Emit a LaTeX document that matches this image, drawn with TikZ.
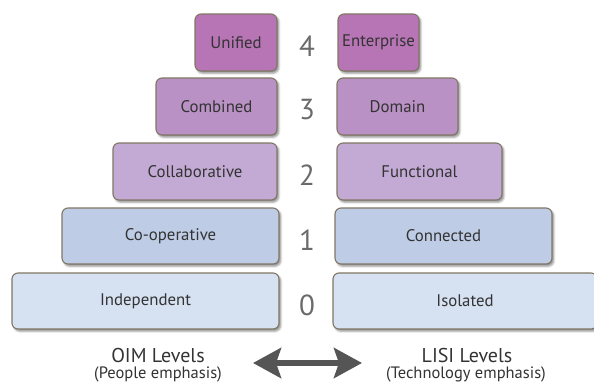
\documentclass[tikz,border=0pt]{standalone}
\usepackage{fontspec}
\setmainfont{PT Sans}
\usetikzlibrary{shadows.blur,arrows.meta}

\definecolor{lvfour}{HTML}{B775B5}
\definecolor{lvthree}{HTML}{B991C4}
\definecolor{lvtwo}{HTML}{C3AAD4}
\definecolor{lvone}{HTML}{BECCE6}
\definecolor{lvzero}{HTML}{D6E1F2}
\definecolor{rim}{HTML}{807664}
\definecolor{ink}{HTML}{333333}
\definecolor{digit}{HTML}{6A6A6A}
\definecolor{arrowgray}{HTML}{555555}

\tikzset{
  level/.style={draw=rim, line width=1.1pt, rounded corners=6pt,
    inner sep=0pt, text=ink, font=\fontsize{16.8}{18}\selectfont,
    blur shadow={shadow xshift=1.8pt, shadow yshift=-2.2pt,
      shadow blur radius=2pt, shadow opacity=45}},
  levelnum/.style={text=digit, font=\fontsize{29}{30}\selectfont, inner sep=0pt},
  caption/.style={text=ink, align=center, inner sep=0pt},
}

\begin{document}
\begin{tikzpicture}[x=1pt,y=-1pt]
  \useasboundingbox (0,0) rectangle (594,383);

  % level 4
  \node[level, fill=lvfour, minimum width=82pt, minimum height=57pt] (unified) at (236,42.5) {Unified};
  \node[level, fill=lvfour, minimum width=81pt, minimum height=57pt] (enterprise) at (378.5,42.5) {Enterprise};
  \node[levelnum] (n4) at (307,46) {4};

  % level 3
  \node[level, fill=lvthree, minimum width=121pt, minimum height=57pt] (combined) at (216.5,106.5) {Combined};
  \node[level, fill=lvthree, minimum width=121pt, minimum height=57pt] (domain) at (397.5,106.5) {Domain};
  \node[levelnum] (n3) at (307,110) {3};

  % level 2
  \node[level, fill=lvtwo, minimum width=164pt, minimum height=57pt] (collab) at (195,171.5) {Collaborative};
  \node[level, fill=lvtwo, minimum width=165pt, minimum height=57pt] (functional) at (419.5,171.5) {Functional};
  \node[levelnum] (n2) at (307,175) {2};

  % level 1
  \node[level, fill=lvone, minimum width=217pt, minimum height=56pt] (coop) at (170.5,236) {Co-operative};
  \node[level, fill=lvone, minimum width=217pt, minimum height=56pt] (connected) at (443.5,236) {Connected};
  \node[levelnum] (n1) at (307,240) {1};

  % level 0
  \node[level, fill=lvzero, minimum width=267pt, minimum height=56pt] (independent) at (145.5,301) {Independent};
  \node[level, fill=lvzero, minimum width=264pt, minimum height=56pt] (isolated) at (465,301) {Isolated};
  \node[levelnum] (n0) at (307,305) {0};

  % captions
  \node[caption] (oim) at (158,362) [anchor=base] {\fontsize{20}{22}\selectfont OIM Levels};
  \node[caption] (oimsub) at (158,378) [anchor=base] {\fontsize{16.5}{18}\selectfont (People emphasis)};
  \node[caption] (lisi) at (467,362) [anchor=base] {\fontsize{20}{22}\selectfont LISI Levels};
  \node[caption] (lisisub) at (466,378) [anchor=base] {\fontsize{16.5}{18}\selectfont (Technology emphasis)};

  % double arrow between the two level families
  \coordinate (arrowL) at (253,363);
  \coordinate (arrowR) at (362,363);
  \draw[arrowgray, line width=6pt,
    {Stealth[length=28pt,width=30pt,inset=5pt]}-{Stealth[length=28pt,width=30pt,inset=5pt]}]
    (arrowL) -- (arrowR);
\end{tikzpicture}
\end{document}
